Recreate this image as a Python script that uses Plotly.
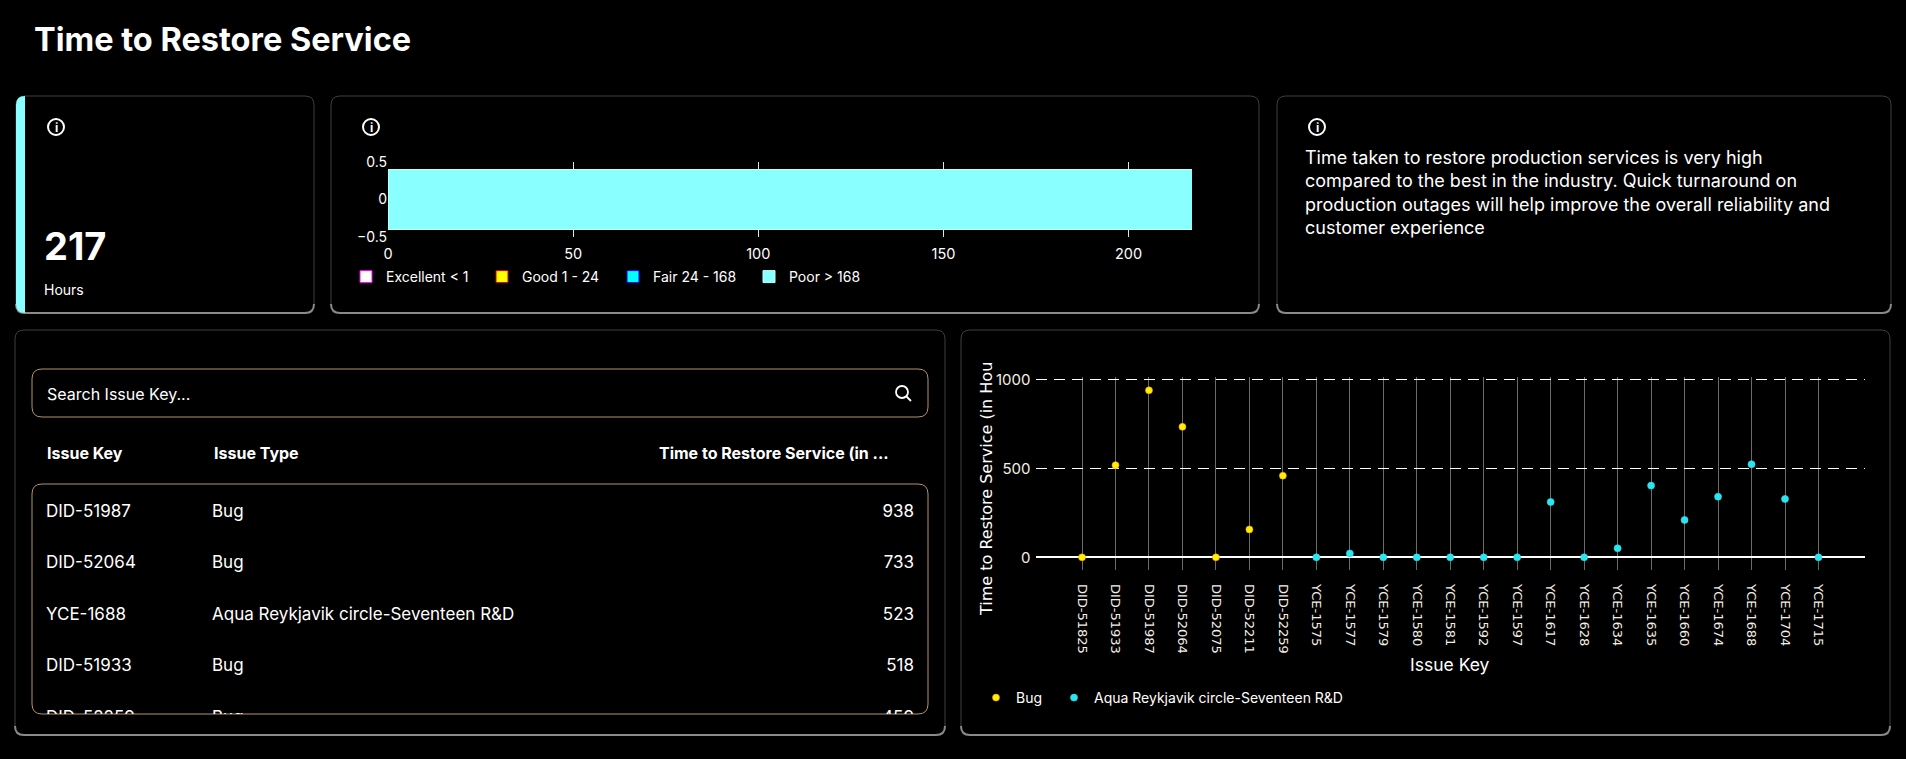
import plotly.graph_objects as go

# ---------------- data ----------------
issue_keys = ["DID-51825", "DID-51933", "DID-51987", "DID-52064", "DID-52075", "DID-52211",
              "DID-52259", "YCE-1575", "YCE-1577", "YCE-1579", "YCE-1580", "YCE-1581",
              "YCE-1592", "YCE-1597", "YCE-1617", "YCE-1628", "YCE-1634", "YCE-1635",
              "YCE-1660", "YCE-1674", "YCE-1688", "YCE-1704", "YCE-1715"]
issue_types = ["Bug"] * 7 + ["Aqua Reykjavik circle-Seventeen R&D"] * 16
restore_hours = [0, 518, 938, 733, 0, 157, 459, 0, 22, 0, 0, 0, 0, 0, 311, 0, 51, 403,
                 210, 341, 523, 328, 0]

type_names = ["Bug", "Aqua Reykjavik circle-Seventeen R&D"]
type_colors = ["#FFF200", "#2BE4EE"]

band_names = ["Excellent < 1", "Good 1 - 24", "Fair 24 - 168", "Poor > 168"]
band_limits = [(0, 1), (1, 24), (24, 168), (168, 1e9)]
band_fill = ["#FFFFFF", "#FFFF00", "#00FFFF", "#8AFFFF"]
band_line = ["#FF00FF", "#CC0000", "#0000FF", "#B8FFFF"]

insight = ("Time taken to restore production services is very high<br>"
           "compared to the best in the industry. Quick turnaround on<br>"
           "production outages will help improve the overall reliability and<br>"
           "customer experience")

mean_hours = sum(restore_hours) / len(restore_hours)

# ---------------- helpers (layout, in pixels) ----------------
W, H = 1906, 759
def px(x): return x / W
def py(y): return 1 - y / H

def rrect(x0, y0, x1, y1, r):
    rx, ry = r / W, r / H
    X0, X1, Y0, Y1 = px(x0), px(x1), py(y0), py(y1)
    return (f"M{X0+rx},{Y0} L{X1-rx},{Y0} Q{X1},{Y0} {X1},{Y0-ry} L{X1},{Y1+ry} "
            f"Q{X1},{Y1} {X1-rx},{Y1} L{X0+rx},{Y1} Q{X0},{Y1} {X0},{Y1+ry} "
            f"L{X0},{Y0-ry} Q{X0},{Y0} {X0+rx},{Y0} Z")

def bottom_edge(x0, x1, y1, r):
    rx, ry = r / W, r / H
    X0, X1, Y1 = px(x0), px(x1), py(y1)
    return (f"M{X0},{Y1+ry} Q{X0},{Y1} {X0+rx},{Y1} L{X1-rx},{Y1} Q{X1},{Y1} {X1},{Y1+ry}")

FONT = "Inter"
shapes, annots = [], []

cards = [(16, 96, 314, 313), (331, 96, 1259, 313), (1277, 96, 1891, 313),
         (15, 330, 945, 735), (961, 330, 1890, 735)]
for (x0, y0, x1, y1) in cards:
    shapes.append(dict(type="path", xref="paper", yref="paper", path=rrect(x0, y0, x1, y1, 9),
                       line=dict(color="#3e3e3e", width=1), fillcolor="#000000", layer="below"))
    shapes.append(dict(type="path", xref="paper", yref="paper", path=bottom_edge(x0, x1, y1, 9),
                       line=dict(color="#8a8a8a", width=2), layer="below"))

# accent strip on KPI card
poor_idx = [i for i, (lo, hi) in enumerate(band_limits) if lo <= mean_hours < hi][0]
sx0, sx1, sy0, sy1 = 16, 25, 96, 313
shapes.append(dict(type="path", xref="paper", yref="paper",
                   path=(f"M{px(sx1)},{py(sy0)} L{px(sx1)},{py(sy1)} "
                         f"Q{px(sx0)},{py(sy1)} {px(sx0)},{py(sy1-9)} L{px(sx0)},{py(sy0+9)} "
                         f"Q{px(sx0)},{py(sy0)} {px(sx1)},{py(sy0)} Z"),
                   fillcolor=band_fill[poor_idx], line=dict(width=0), layer="below"))

# info icons
for cx in (56, 371, 1317):
    cy = 127
    shapes.append(dict(type="circle", xref="paper", yref="paper",
                       x0=px(cx - 8), x1=px(cx + 8), y0=py(cy + 8), y1=py(cy - 8),
                       line=dict(color="#FFFFFF", width=2), layer="above"))
    annots.append(dict(x=px(cx), y=py(cy), xref="paper", yref="paper", text="<b>i</b>",
                       showarrow=False, font=dict(family=FONT, size=12, color="#FFFFFF"),
                       xanchor="center", yanchor="middle"))

# search box & table box
shapes.append(dict(type="path", xref="paper", yref="paper", path=rrect(32, 369, 928, 417, 10),
                   line=dict(color="#B8916C", width=1), layer="below"))
shapes.append(dict(type="path", xref="paper", yref="paper", path=rrect(32, 484, 928, 714, 10),
                   line=dict(color="#B8916C", width=1), layer="below"))
# search icon
shapes.append(dict(type="circle", xref="paper", yref="paper",
                   x0=px(896), x1=px(908), y0=py(398), y1=py(386),
                   line=dict(color="#FFFFFF", width=1.8), layer="above"))
shapes.append(dict(type="line", xref="paper", yref="paper",
                   x0=px(906), y0=py(396), x1=px(911), y1=py(401),
                   line=dict(color="#FFFFFF", width=1.8), layer="above"))

# text annotations
def txt(x, y, s, size, bold=False, xanchor="left", yanchor="middle", family=FONT, **kw):
    annots.append(dict(x=px(x), y=py(y), xref="paper", yref="paper",
                       text=f"<b>{s}</b>" if bold else s, showarrow=False,
                       font=dict(family=family, size=size, color="#FFFFFF"),
                       xanchor=xanchor, yanchor=yanchor, **kw))

txt(32, 40, "Time to Restore Service", 32.5, bold=True)
txt(42, 246, f"{round(mean_hours)}", 38, bold=True)
txt(42, 289, "Hours", 14)
txt(1303, 145, insight, 18, yanchor="top", align="left")
txt(45, 394, "Search Issue Key...", 16)
txt(45, 453, "Issue Key", 16, bold=True)
txt(212, 453, "Issue Type", 16, bold=True)
txt(657, 453, "Time to Restore Service (in ...", 16, bold=True)
txt(986, 489, "Time to Restore Service (in Hou", 16, xanchor="center", family="DejaVu Sans",
    textangle=-90)
txt(1450, 664, "Issue Key", 17.5, xanchor="center")

fig = go.Figure()

# legend slots (one legend per entry so each sits where the reference puts it)
scatter_legend_x = [999, 1077]
band_legend_x = [369, 505, 636, 772]

# ---------------- scatter (issue chart) ----------------
for j, (name, color) in enumerate(zip(type_names, type_colors)):
    xs = [k for k, t in zip(issue_keys, issue_types) if t == name]
    ys = [v for v, t in zip(restore_hours, issue_types) if t == name]
    fig.add_trace(go.Scatter(x=xs, y=ys, mode="markers", name=name,
                             marker=dict(size=7, color=color,
                                         line=dict(color="#FF9900" if name == "Bug" else color, width=0.6)),
                             xaxis="x", yaxis="y",
                             legend="legend" if j == 0 else f"legend{j + 1}"))

# ---------------- gauge bar ----------------
for i, (nm, (lo, hi)) in enumerate(zip(band_names, band_limits)):
    val = mean_hours if lo <= mean_hours < hi else 0
    fig.add_trace(go.Bar(x=[val], y=[0], orientation="h", name=nm, width=0.8,
                         marker=dict(color=band_fill[i], line=dict(color=band_line[i], width=1)),
                         xaxis="x2", yaxis="y2", legend=f"legend{i + 3}"))

# ---------------- table (rows scroll inside a clipped box) ----------------
table_rows = 5
order = sorted(range(len(restore_hours)), key=lambda i: -restore_hours[i])[:table_rows]
rows = list(range(len(order)))
col_specs = [([issue_keys[i] for i in order], 46, "middle right"),
             ([issue_types[i] for i in order], 212, "middle right"),
             ([f"{restore_hours[i]}" for i in order], 914, "middle left")]
for texts, cx, pos in col_specs:
    fig.add_trace(go.Scatter(x=[cx] * len(rows), y=rows, mode="text", text=texts,
                             textposition=pos, cliponaxis=True, showlegend=False,
                             textfont=dict(family=FONT, size=17, color="#FFFFFF"),
                             xaxis="x3", yaxis="y3", hoverinfo="skip"))

row_h = 51.5
legend_common = dict(orientation="h", xanchor="left", yanchor="middle",
                     bgcolor="rgba(0,0,0,0)", font=dict(family=FONT, size=14, color="#FFFFFF"))
legends = {}
for j, cx in enumerate(scatter_legend_x):
    key = "legend" if j == 0 else f"legend{j + 1}"
    legends[key] = dict(x=px(cx - 23), y=py(698), **legend_common)
for i, cx in enumerate(band_legend_x):
    legends[f"legend{i + 3}"] = dict(x=px(cx - 23), y=py(277), **legend_common)

fig.update_layout(
    width=W, height=H, margin=dict(l=0, r=0, t=0, b=0, autoexpand=False),
    paper_bgcolor="#000000", plot_bgcolor="rgba(0,0,0,0)",
    barmode="stack", showlegend=True,
    font=dict(family=FONT, color="#FFFFFF"),
    shapes=shapes, annotations=annots,
    xaxis=dict(domain=[px(1035.5), px(1865)], type="category",
               categoryorder="array", categoryarray=issue_keys,
               range=[-1.39, 23.39], tickangle=90,
               showgrid=True, gridcolor="#6a6a6a", gridwidth=1, zeroline=False,
               showline=False, ticks="", ticklabelstandoff=13,
               tickfont=dict(family="DejaVu Sans", size=13, color="#F4EFE6")),
    yaxis=dict(domain=[py(570), py(377)], range=[-71, 1013], tickvals=[0, 500, 1000],
               showgrid=True, gridcolor="#FFFFFF", griddash="11px,7px", gridwidth=1,
               zeroline=True, zerolinecolor="#FFFFFF", zerolinewidth=1.5,
               showline=False, ticks="", ticklabelstandoff=4,
               tickfont=dict(family=FONT, size=15, color="#F4EFE6")),
    xaxis2=dict(domain=[px(388), px(1192)], range=[0, mean_hours], anchor="y2",
                tickvals=[0, 50, 100, 150, 200], showgrid=True, gridcolor="#E8E2D8",
                zeroline=False, showline=False, ticks="", ticklabelstandoff=6,
                tickfont=dict(family=FONT, size=14.5, color="#FFFFFF")),
    yaxis2=dict(domain=[py(237), py(162)], range=[-0.5, 0.5], anchor="x2",
                tickvals=[-0.5, 0, 0.5], showgrid=False, zeroline=False, ticks="",
                tickfont=dict(family=FONT, size=14, color="#FFFFFF")),
    xaxis3=dict(domain=[px(32), px(928)], range=[32, 928], anchor="y3", visible=False),
    yaxis3=dict(domain=[py(714), py(484)], anchor="x3", visible=False,
                range=[(714 - 512.3) / row_h, -(512.3 - 484) / row_h]),
    **legends,
)

fig.write_html("out.html", config={"displayModeBar": False},
               post_script="document.documentElement.style.margin='0px';"
                           "document.documentElement.style.padding='0px';"
                           "document.documentElement.style.overflow='hidden';"
                           "document.documentElement.style.background='#000000';"
                           "document.body.style.margin='0px';"
                           "document.body.style.padding='0px';"
                           "document.body.style.background='#000000';"
                           "document.body.style.overflow='hidden';")
